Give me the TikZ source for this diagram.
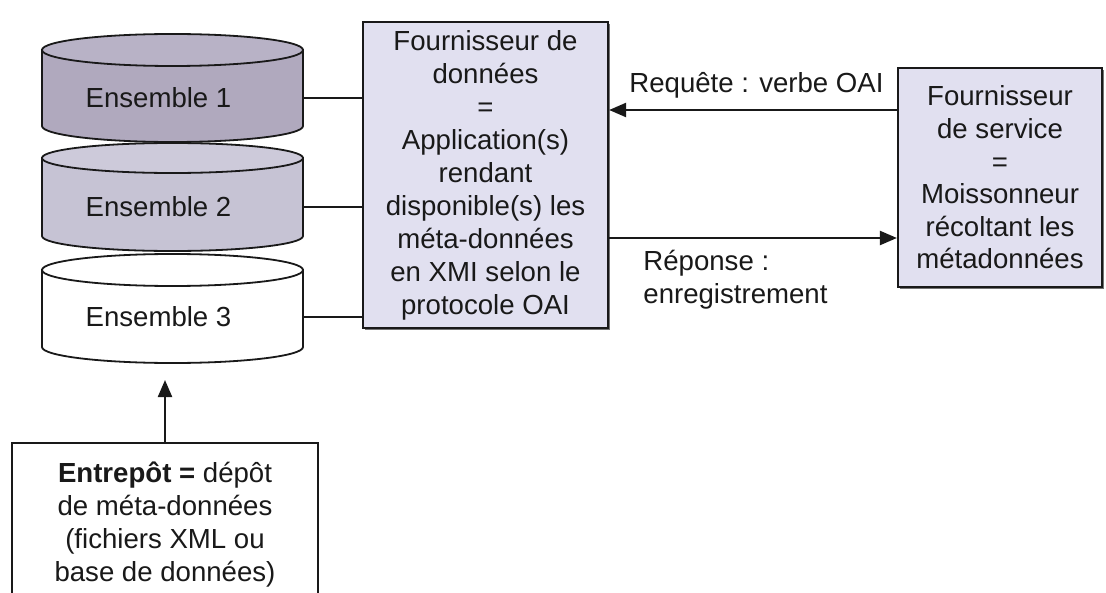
\documentclass[tikz,border=0pt]{standalone}
\usepackage{fontspec}
\setmainfont{Liberation Sans}
\usetikzlibrary{arrows.meta,calc,shadows}
\definecolor{cylA}{RGB}{176,169,190}
\definecolor{cylAtop}{RGB}{184,178,198}
\definecolor{cylB}{RGB}{198,195,212}
\definecolor{cylBtop}{RGB}{205,202,218}
\definecolor{boxfill}{RGB}{225,224,240}
\definecolor{ink}{RGB}{25,25,25}
\tikzset{
  txt/.style={font=\fontsize{13.8pt}{16.5pt}\selectfont, text=ink, align=center, inner sep=0pt},
  bigbox/.style={draw=ink, line width=1.1pt, fill=boxfill, align=center, inner sep=0pt,
    drop shadow={shadow xshift=1.2pt, shadow yshift=-1.2pt, fill=black!55, opacity=1}},
  link/.style={draw=ink, line width=1.1pt},
  arr/.style={draw=ink, line width=1.1pt, -{Triangle[length=8.5pt,width=7pt]}},
  cylline/.style={draw=ink, line width=0.9pt},
}
\begin{document}
\begin{tikzpicture}[x=0.5pt,y=-0.5pt]
\clip (0,0) rectangle (1106,593);
\fill[white] (0,0) rectangle (1106,593);

% cylinder 1
\filldraw[cylline, fill=cylA] (42,50) -- (42,126) arc[start angle=180,end angle=0,x radius=130.5,y radius=16] -- (303,50) -- cycle;
\filldraw[cylline, fill=cylAtop] (172.5,50) ellipse [x radius=130.5, y radius=16];
% cylinder 2
\filldraw[cylline, fill=cylB] (42,158) -- (42,236) arc[start angle=180,end angle=0,x radius=130.5,y radius=15] -- (303,158) -- cycle;
\filldraw[cylline, fill=cylBtop] (172.5,158) ellipse [x radius=130.5, y radius=15];
% cylinder 3
\filldraw[cylline, fill=white] (42,270) -- (42,347) arc[start angle=180,end angle=0,x radius=130.5,y radius=16] -- (303,270) -- cycle;
\filldraw[cylline, fill=white] (172.5,270) ellipse [x radius=130.5, y radius=16];

\node[txt, minimum width=130.5pt] (e1) at (172.5,98) {\hspace*{-14pt}Ensemble 1};
\node[txt, minimum width=130.5pt] (e2) at (172.5,207) {\hspace*{-14pt}Ensemble 2};
\node[txt, minimum width=130.5pt] (e3) at (172.5,317) {\hspace*{-14pt}Ensemble 3};
\coordinate (e3bot) at (165,380);

% data provider
\node[bigbox, txt, minimum width=122.5pt, minimum height=153pt] (fd) at (485.5,175)
  {Fournisseur de\\données\\=\\Application(s)\\rendant\\disponible(s) les\\méta-données\\en XMI selon le\\protocole OAI};

% service provider
\node[bigbox, txt, font=\fontsize{13.8pt}{16.3pt}\selectfont, minimum width=102pt, minimum height=109.5pt] (sp) at (1000,177.5)
  {Fournisseur\\de service\\=\\Moissonneur\\récoltant les\\métadonnées};

% repository
\node[draw=ink, line width=1.1pt, fill=white, txt, minimum width=153pt, minimum height=81pt, anchor=north] (eb) at (165,442)
  {\textbf{Entrepôt =} dépôt\\de méta-données\\(fichiers XML ou\\base de données)};

% links
\draw[link] (e1.east) -- (e1.east -| fd.west);
\draw[link] (e2.east) -- (e2.east -| fd.west);
\draw[link] (e3.east) -- (e3.east -| fd.west);

\coordinate (a1) at (0,110);
\coordinate (a2) at (0,238);
\draw[arr] (sp.west |- a1) -- (fd.east |- a1);
\draw[arr] (fd.east |- a2) -- (sp.west |- a2);
\draw[arr] (eb.north) -- (e3bot);

\node[txt, anchor=west] (req) at (629,85) {Requête : verbe OAI};
\node[txt, anchor=west, align=left] (rep) at (643,280) {Réponse :\\enregistrement};
\end{tikzpicture}
\end{document}
